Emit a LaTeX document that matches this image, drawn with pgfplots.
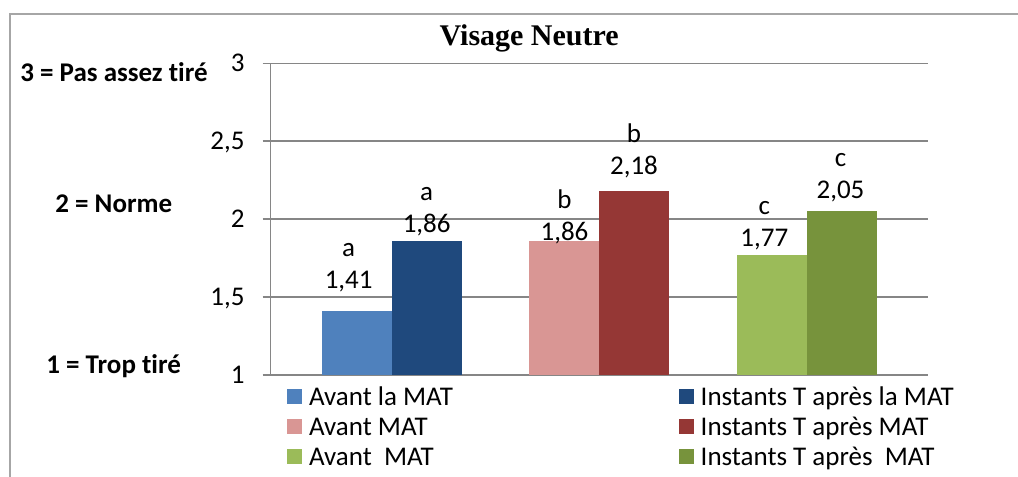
\documentclass[border=0pt]{standalone}
\usepackage{fontspec}
\setmainfont{Carlito}[Ligatures=NoCommon]
\newfontfamily\titlefont{Liberation Serif}
\usepackage{pgfplots}
\pgfplotsset{compat=1.18}

\definecolor{lblue}{HTML}{4F81BD}
\definecolor{dblue}{HTML}{1F497D}
\definecolor{lred}{HTML}{D99694}
\definecolor{dred}{HTML}{953735}
\definecolor{lgreen}{HTML}{9BBB59}
\definecolor{dgreen}{HTML}{77933C}
\definecolor{gridc}{HTML}{868686}
\definecolor{framec}{HTML}{A6A6A6}

\newcommand\f{\fontsize{13.5bp}{16bp}\selectfont}

\pgfplotsset{
  mybar/.style={ybar, bar width=0.3194, bar shift=0pt, fill=#1, draw=none,
    legend image code/.code={\fill[fill=#1] (0bp,-3.75bp) rectangle (7.5bp,3.75bp); \path (11bp,0bp);}},
  lab/.style n args={3}{nodes near coords={#1\\\pgfmathprintnumber{\pgfplotspointmeta}},
    every node near coord/.append style={xshift=#2, yshift=#3}},
}

\begin{document}
\begin{tikzpicture}
\path[use as bounding box] (0,0) rectangle (509bp,-238.5bp);
\draw[framec, line width=1bp] (5bp,-238.5bp) -- (5bp,-7bp) -- (509bp,-7bp);

\begin{axis}[
  at={(135.25bp,-187.5bp)}, anchor=south west,
  scale only axis, width=328.75bp, height=155.85bp,
  xmin=0, xmax=3, ymin=1, ymax=3,
  xtick=\empty, ytick={1,1.5,2,2.5,3},
  axis lines*=left,
  axis line style={draw=gridc, line width=0.75bp},
  ymajorgrids, grid style={draw=gridc, line width=0.75bp},
  tick align=outside, major tick length=4bp,
  ytick style={draw=gridc, line width=0.75bp},
  yticklabel style={font=\f, anchor=east, inner sep=0pt, text height=8.5bp, text depth=0pt, xshift=-8.75bp},
  /pgf/number format/use comma,
  /pgf/number format/assume math mode=true,
  every node near coord/.append style={font=\f, align=center, inner sep=0pt, text depth=0pt, anchor=south},
  legend columns=2,
  legend cell align=left,
  legend style={at={(0.0251,-0.0218)}, anchor=north west, draw=none, fill=none,
    inner sep=0pt, outer sep=0pt, row sep=0pt, column sep=0pt, font=\f,
    nodes={inner sep=0pt, text height=11.6bp, text depth=3.4bp}},
]
\addplot[mybar=lblue, lab={a}{-4bp}{11bp}] coordinates {(0.3933,1.41)};
\addlegendentry{\makebox[184.85bp][l]{Avant la MAT}}
\addplot[mybar=dblue, lab={a}{0bp}{4.2bp}] coordinates {(0.7127,1.86)};
\addlegendentry{Instants T après la MAT}
\addplot[mybar=lred, lab={b}{0bp}{0bp}] coordinates {(1.3414,1.86)};
\addlegendentry{\makebox[184.85bp][l]{Avant MAT}}
\addplot[mybar=dred, lab={b}{0bp}{7.9bp}] coordinates {(1.6585,2.18)};
\addlegendentry{Instants T après MAT}
\addplot[mybar=lgreen, lab={c}{-4bp}{4.2bp}] coordinates {(2.2895,1.77)};
\addlegendentry{\makebox[184.85bp][l]{Avant\ \ MAT}}
\addplot[mybar=dgreen, lab={c}{-0.75bp}{6.3bp}] coordinates {(2.6076,2.05)};
\addlegendentry{Instants T après\ \ MAT}
\end{axis}

\node[font=\titlefont\bfseries\fontsize{15bp}{17bp}\selectfont, anchor=base] at (264.6bp,-22.8bp) {Visage Neutre};
\node[font=\bfseries\f, anchor=base west, inner sep=0pt] at (10bp,-40.5bp) {3 = Pas assez tiré};
\node[font=\bfseries\f, anchor=base west, inner sep=0pt] at (27.5bp,-106.2bp) {2 = Norme};
\node[font=\bfseries\f, anchor=base west, inner sep=0pt] at (23bp,-186.5bp) {1 = Trop tiré};
\end{tikzpicture}
\end{document}
